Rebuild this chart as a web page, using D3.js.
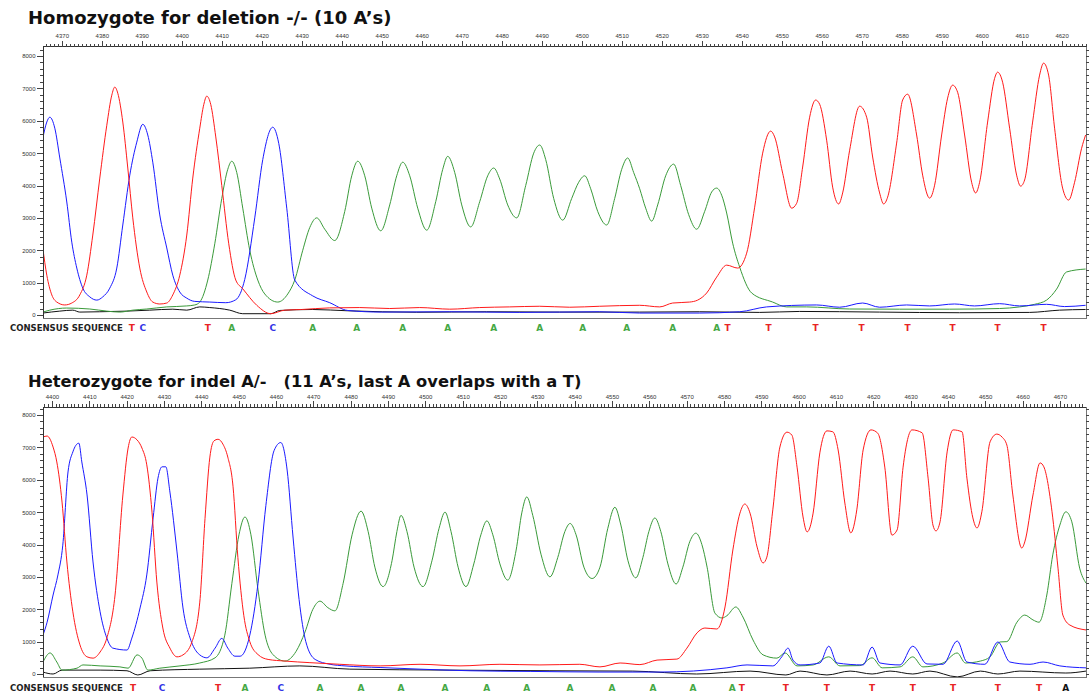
<!DOCTYPE html>
<html>
<head>
<meta charset="utf-8">
<title>Chromatogram: homozygote vs heterozygote</title>
<style>
  body { margin: 0; background: #fff; }
  svg { display: block; font-family: "Liberation Sans", Arial, sans-serif; }
  .title { font-family: "DejaVu Sans", Verdana, sans-serif; font-weight: bold; fill: #111; white-space: pre; }
  .cons { font-family: "DejaVu Sans", Verdana, sans-serif; font-weight: bold; font-size: 8.5px; fill: #222; }
  .base { font-family: "DejaVu Sans", Verdana, sans-serif; font-weight: bold; font-size: 9px; }
  .axis text { font-size: 6px; fill: #333; font-family: "Liberation Sans", Arial, sans-serif; }
  .axis line { stroke: #444; shape-rendering: crispEdges; }
  .axis path { display: none; }
  .trace { fill: none; stroke-width: 1; }
</style>
</head>
<body>
<svg width="1089" height="695"></svg>
<script src="https://cdnjs.cloudflare.com/ajax/libs/d3/7.8.5/d3.min.js"></script>
<script>
// ---- data: scan position, signal intensity ----
// panel 1: homozygote for deletion
var topT = [[4365.25,2070],[4366.25,1230],[4367.5,620],[4368.75,400],[4370.75,310],[4372.5,370],[4374.5,620],[4376.25,1230],[4377.75,2470],[4379.5,4230],[4381.25,5860],[4382.5,6790],[4383.25,7040],[4384,6850],[4385.25,5960],[4386.5,4540],[4387.75,3000],[4389.5,1450],[4391.25,710],[4392.75,400],[4394.5,340],[4396.25,370],[4397.75,620],[4399.5,1230],[4401.25,2470],[4402.75,4230],[4404.5,5770],[4405.5,6500],[4406.25,6760],[4407.25,6500],[4408.5,5500],[4410,4000],[4411.75,2200],[4413.5,1080],[4415.25,810],[4418.75,300],[4422.25,40],[4425.75,150],[4430,170],[4437,220],[4444.5,230],[4452,200],[4459.5,230],[4467,180],[4474.5,230],[4482,250],[4489.5,270],[4497,240],[4504.5,270],[4514.5,300],[4519.5,250],[4522.75,370],[4527,400],[4529,460],[4531.25,680],[4533.75,1170],[4536.25,1540],[4539,1450],[4541.25,1910],[4543.25,3330],[4545.25,5000],[4547.25,5680],[4548.25,5500],[4550.25,4380],[4552.5,3300],[4553.75,3450],[4555.25,4570],[4557,6110],[4558.5,6640],[4559.5,6510],[4561.25,5400],[4562.75,3950],[4564.25,3430],[4565.25,3770],[4567,5090],[4569.5,6450],[4571.25,6110],[4572.75,4880],[4574.5,3770],[4575.5,3430],[4576.5,3640],[4578.75,5310],[4580.25,6640],[4581.5,6820],[4583.75,5560],[4585.25,4320],[4587,3610],[4588.25,4010],[4590,5560],[4591.5,6700],[4592.75,7100],[4594,6880],[4595.75,5560],[4597.5,4100],[4598.5,3770],[4599.5,4100],[4601.5,5960],[4603.25,7310],[4604,7500],[4605.25,7190],[4607,5770],[4608.75,4320],[4609.75,3980],[4610.75,4170],[4612.75,5960],[4614.5,7410],[4615.5,7780],[4616.75,7410],[4618.25,5770],[4620.25,3920],[4621.75,3550],[4623.25,4100],[4625,5150],[4626,5560]];
var topC = [[4365.25,5460],[4366.25,5960],[4367,6110],[4368.25,5770],[4369.5,4850],[4371.25,3490],[4372.5,2250],[4373.75,1450],[4375.25,830],[4377,560],[4378.75,460],[4380.25,560],[4382,830],[4383.75,1450],[4385.25,2780],[4387,4320],[4388.75,5340],[4390.25,5890],[4391.5,5560],[4392.75,4720],[4394.5,3090],[4396.25,2070],[4397.75,1230],[4399.5,710],[4401.25,520],[4403.25,420],[4407,400],[4411,380],[4413.5,470],[4415.75,1100],[4418.25,3000],[4420.25,4800],[4422.75,5800],[4424.25,5300],[4426.25,3300],[4428.25,1080],[4432.75,590],[4437,380],[4441.5,140],[4450,90],[4467,100],[4484.5,80],[4504.5,100],[4514.5,60],[4529.5,60],[4539.5,100],[4546.25,250],[4558.75,310],[4564.5,240],[4570.25,370],[4574.5,240],[4581.25,310],[4587,280],[4593.25,340],[4598.25,280],[4604.5,350],[4609.5,280],[4616.25,330],[4620.75,260],[4626,300]];
var topA = [[4365.25,90],[4367,150],[4371.25,215],[4377,185],[4381.25,120],[4384.5,90],[4387.75,150],[4391.25,185],[4396.25,250],[4401.25,280],[4403.25,310],[4404.5,400],[4406.5,1080],[4408.25,2200],[4410,3600],[4411.5,4500],[4412.5,4750],[4413.75,4400],[4415.25,3300],[4417,2000],[4419,1080],[4420.75,650],[4424,400],[4426.5,650],[4428.25,1080],[4430.25,2000],[4432,2700],[4433.75,3000],[4435.75,2650],[4438.25,2300],[4440.75,3200],[4442.5,4300],[4444,4750],[4445.75,4300],[4447.5,3300],[4449.75,2600],[4452,3400],[4453.75,4300],[4455.25,4720],[4457,4300],[4459,3300],[4461.25,2620],[4463.5,3500],[4465.25,4500],[4466.5,4900],[4468.25,4400],[4470,3400],[4472.25,2720],[4474.5,3500],[4476.5,4300],[4478,4540],[4479.5,4200],[4481.5,3400],[4483.75,3000],[4486,4000],[4488,5000],[4489.5,5250],[4491,4800],[4493,3600],[4495.25,2930],[4497.5,3600],[4499.25,4100],[4500.75,4300],[4502.25,3900],[4504,3200],[4506.25,2780],[4508.25,3600],[4510,4500],[4511.5,4850],[4513,4400],[4514.5,3900],[4516,3300],[4517.5,2900],[4519,3400],[4521,4300],[4523,4660],[4524.75,4000],[4526.75,3100],[4528.75,2650],[4530.75,3200],[4532.5,3800],[4533.75,3920],[4535,3700],[4536.25,3150],[4537.75,2220],[4539.5,1480],[4542.5,680],[4547.75,400],[4551.25,250],[4556.25,250],[4567,185],[4579.5,180],[4592,180],[4604.5,200],[4609.5,250],[4613.25,330],[4616.25,460],[4618.75,800],[4621.25,1330],[4626,1420]];
var topG = [[4365.25,60],[4369.5,120],[4372.75,150],[4374.5,90],[4379.5,100],[4386.25,120],[4392,150],[4397.75,180],[4401.25,150],[4404.5,250],[4407,230],[4412,150],[4415.25,40],[4422.25,40],[4424.5,140],[4432.75,170],[4441.5,130],[4458.75,85],[4476.25,100],[4494.5,90],[4514.5,90],[4529.5,100],[4544.5,80],[4554.5,110],[4574.5,90],[4594.5,70],[4612,80],[4619.5,150],[4626,170]];

// panel 2: heterozygote for indel
var botT = [[4397.6,7320],[4398.7,7350],[4400.3,7010],[4401.3,6550],[4402.7,5310],[4404.0,3460],[4405.6,1920],[4407.5,900],[4409.4,530],[4411.0,490],[4412.9,680],[4414.7,1110],[4416.9,2440],[4419.0,5530],[4420.4,6980],[4421.4,7320],[4422.8,7230],[4424.1,6980],[4425.4,6460],[4426.8,5000],[4428.1,2840],[4429.7,1420],[4431.6,800],[4433.5,530],[4435.1,590],[4437.5,990],[4439.6,2220],[4441.0,4800],[4442.3,6700],[4443.4,7200],[4444.5,7250],[4445.8,7100],[4447.1,6700],[4448.5,5800],[4449.8,3600],[4451.4,1800],[4453.0,1000],[4455.2,600],[4457.9,450],[4462.4,400],[4469.1,350],[4477.1,300],[4487.9,250],[4498.6,300],[4509.3,250],[4520.0,300],[4530.7,280],[4541.4,300],[4546.8,220],[4552.2,340],[4557.5,290],[4562.1,430],[4567.4,460],[4570.1,800],[4572.8,1270],[4574.9,1420],[4578.1,1390],[4580.3,2070],[4582.4,3830],[4584.3,4970],[4585.6,5250],[4587.0,4970],[4588.9,3920],[4590.5,3430],[4591.5,3610],[4593.1,5070],[4595.0,7010],[4596.9,7470],[4598.2,7380],[4599.6,6390],[4601.2,4850],[4602.3,4390],[4603.9,4970],[4605.7,6830],[4607.6,7510],[4609.2,7480],[4610.6,6920],[4612.4,5280],[4614.0,4360],[4615.6,5070],[4617.3,6920],[4619.4,7540],[4621.2,7440],[4623.1,6390],[4625.0,4290],[4626.4,4450],[4628.0,6390],[4630.4,7540],[4633.1,7450],[4634.7,6050],[4636.0,4600],[4636.8,4420],[4637.9,4700],[4639.8,6860],[4641.4,7540],[4643.8,7480],[4645.1,6050],[4646.7,4820],[4647.8,4510],[4649.1,5010],[4651.3,7170],[4653.1,7410],[4654.5,7320],[4655.8,7070],[4657.4,5530],[4659.8,3890],[4660.6,4080],[4662.8,5530],[4664.7,6520],[4665.7,6400],[4667.9,5010],[4669.5,3270],[4670.8,1820],[4672.7,1510],[4677.0,1360]];
var botC = [[4397.6,1200],[4398.7,1600],[4400.3,2440],[4401.6,3060],[4402.9,3980],[4404.3,6240],[4405.6,6860],[4407.2,7130],[4408.0,6550],[4409.4,5530],[4411.0,3460],[4412.9,1920],[4414.7,1110],[4416.3,800],[4420.1,740],[4421.4,1110],[4423.6,2040],[4425.4,3060],[4427.1,4820],[4428.4,6050],[4429.5,6400],[4430.5,6400],[4431.6,5620],[4433.5,3770],[4435.1,2040],[4437.0,1110],[4438.8,680],[4439.6,590],[4441.5,500],[4443.7,800],[4445.5,1100],[4447.1,800],[4449.0,550],[4450.4,550],[4453.0,1200],[4455.2,2800],[4457.3,5200],[4459.5,6900],[4461.3,7150],[4463.0,6300],[4464.6,4200],[4466.2,2300],[4468.0,1000],[4470.5,450],[4474.5,300],[4478.5,250],[4487.9,200],[4498.6,150],[4512.0,100],[4528.1,80],[4546.8,60],[4562.9,60],[4580.8,190],[4586.2,280],[4593.1,250],[4595.5,530],[4597.2,800],[4598.5,430],[4600.4,280],[4605.7,340],[4608.1,860],[4610.3,340],[4617.3,280],[4619.7,830],[4621.8,340],[4627.2,280],[4630.6,860],[4634.4,310],[4638.7,300],[4642.5,1020],[4645.1,370],[4649.9,300],[4653.4,990],[4656.6,370],[4662.0,300],[4665.5,370],[4670.0,250],[4677.0,190]];
var botA = [[4397.6,370],[4399.5,650],[4401.3,370],[4402.7,120],[4406.7,180],[4408.3,280],[4412.9,250],[4418.2,220],[4420.4,180],[4422.8,590],[4424.1,490],[4425.7,120],[4428.9,180],[4434.3,250],[4439.6,340],[4443.7,500],[4446.3,1200],[4448.2,2800],[4450.1,4300],[4451.7,4850],[4453.3,4300],[4455.2,2600],[4457.1,1200],[4459.2,600],[4462.4,400],[4465.4,700],[4467.8,1300],[4469.9,2000],[4471.8,2250],[4473.9,2050],[4475.8,1950],[4478.0,2800],[4480.4,4300],[4482.8,5030],[4484.7,4400],[4486.5,3300],[4488.7,2700],[4491.1,3500],[4492.4,4400],[4493.5,4900],[4495.1,4400],[4497.0,3300],[4499.4,2700],[4501.8,3500],[4503.7,4500],[4505.3,5000],[4506.9,4400],[4508.8,3300],[4510.9,2700],[4513.0,3400],[4514.9,4300],[4516.5,4730],[4518.1,4300],[4520.0,3400],[4522.1,2900],[4524.3,3800],[4525.9,5000],[4527.2,5470],[4528.8,4900],[4531.0,3700],[4533.4,3000],[4535.5,3600],[4537.4,4400],[4538.8,4650],[4540.4,4300],[4542.5,3300],[4544.7,2950],[4546.8,3300],[4548.9,4500],[4550.8,5150],[4552.4,4600],[4554.3,3500],[4556.4,2970],[4558.3,3600],[4559.9,4400],[4561.5,4820],[4563.1,4400],[4565.0,3400],[4567.2,2780],[4569.0,3300],[4570.9,4100],[4572.5,4350],[4574.1,4000],[4575.5,3300],[4577.6,1880],[4579.5,1730],[4580.8,1800],[4583.2,2070],[4585.1,1760],[4587.8,1050],[4590.5,590],[4594.2,490],[4596.4,650],[4599.6,250],[4603.9,280],[4608.1,530],[4611.1,250],[4616.4,260],[4619.7,500],[4622.4,190],[4627.2,220],[4630.6,530],[4633.3,220],[4638.7,340],[4642.5,650],[4644.7,340],[4648.7,400],[4651.3,530],[4654.0,990],[4655.8,1000],[4658.5,1600],[4660.6,1820],[4662.8,1670],[4664.4,1600],[4666.5,2440],[4668.1,3680],[4670.0,4600],[4671.6,5010],[4673.2,4700],[4675.3,3270],[4677.0,2810]];
var botG = [[4397.6,60],[4400.3,0],[4402.7,120],[4412.9,120],[4420.1,100],[4423.0,-30],[4426.3,100],[4439.6,150],[4453.0,180],[4466.4,250],[4479.8,150],[4506.6,120],[4533.4,100],[4555.6,90],[4572.7,0],[4587.0,90],[4596.6,-30],[4600.4,90],[4607.6,-30],[4613.8,90],[4619.7,0],[4624.5,90],[4630.6,0],[4635.2,90],[4642.5,-90],[4648.7,90],[4653.4,0],[4659.3,90],[4671.6,30],[4677.0,90]];

// consensus calls and where they sit on the scan axis
var topSeq = "TCTACAAAAAAAAAATTTTTTTT";
var topSeqPos = [4387.5,4390.25,4406.5,4412.5,4422.75,4432.75,4443.75,4455.25,4466.5,4478,4489.5,4500.25,4511.25,4522.75,4533.75,4536.5,4546.75,4558.5,4570,4581.5,4592.75,4604,4615.5];
var botSeq = "TCTACAAAAAAAAAAATTTTTTTTA";
var botSeqPos = [4421.7,4429.5,4444.5,4451.7,4461.3,4471.8,4482.8,4493.5,4505.3,4516.5,4527.2,4538.8,4550.0,4561.0,4571.7,4582.2,4584.8,4596.6,4607.6,4619.7,4630.6,4641.4,4653.4,4664.4,4671.6];

var topTicks = [4370,4380,4390,4400,4410,4420,4430,4440,4450,4460,4470,4480,4490,4500,4510,4520,4530,4540,4550,4560,4570,4580,4590,4600,4610,4620];
var botTicks = [4400,4410,4420,4430,4440,4450,4460,4470,4480,4490,4500,4510,4520,4530,4540,4550,4560,4570,4580,4590,4600,4610,4620,4630,4640,4650,4660,4670];
var yTicks = [0,1000,2000,3000,4000,5000,6000,7000,8000];

var titles = ["Homozygote for deletion -/- (10 A\u2019s)", "Heterozygote for indel A/-   (11 A\u2019s, last A overlaps with a T)"];

// ---- drawing ----
var svg = d3.select("svg");
var L = 43, R = 1086;
var baseColor = { T: "#e82424", C: "#3434e6", A: "#45a845", G: "#111" };
var traceColor = { T: "#ff1a1a", C: "#1a1aff", A: "#3a9a3a", G: "#111" };

var panels = [
  { title: titles[0], titleY: 24, titleSize: 18, xDomain: [4365.3, 4626.1], top: 46.5, bottom: 318, y0: 315, y8000: 56,
    ticks: topTicks, seq: topSeq, seqPos: topSeqPos, seqY: 330.5,
    traces: [["G", topG], ["A", topA], ["C", topC], ["T", topT]] },
  { title: titles[1], titleY: 387, titleSize: 16.3, xDomain: [4397.6, 4677.0], top: 407, bottom: 677, y0: 674, y8000: 415,
    ticks: botTicks, seq: botSeq, seqPos: botSeqPos, seqY: 690.5,
    traces: [["G", botG], ["A", botA], ["C", botC], ["T", botT]] }
];

panels.forEach(function(p, pi) {
  var x = d3.scaleLinear().domain(p.xDomain).range([L, R]);
  var y = d3.scaleLinear().domain([0, 8000]).range([p.y0, p.y8000]);

  svg.append("text").attr("class", "title").attr("x", 28).attr("y", p.titleY)
    .attr("xml:space", "preserve").style("font-size", p.titleSize + "px").text(p.title);

  svg.append("clipPath").attr("id", "clip" + pi)
    .append("rect").attr("x", L).attr("y", p.top).attr("width", R - L).attr("height", p.bottom - p.top);

  var line = d3.line()
    .x(function(d) { return x(d[0]); })
    .y(function(d) { return y(d[1]); })
    .curve(d3.curveMonotoneX);

  var g = svg.append("g").attr("clip-path", "url(#clip" + pi + ")");
  p.traces.forEach(function(t) {
    g.append("path").datum(t[1]).attr("class", "trace")
      .attr("stroke", traceColor[t[0]]).attr("d", line);
  });

  // frame
  svg.append("rect").attr("x", L + 0.5).attr("y", p.top).attr("width", R - L - 0.5).attr("height", p.bottom - p.top)
    .attr("fill", "none").attr("stroke", "#777").attr("shape-rendering", "crispEdges");
  svg.append("line").attr("x1", L + 0.5).attr("x2", L + 0.5).attr("y1", p.top).attr("y2", p.bottom)
    .attr("stroke", "#333").attr("shape-rendering", "crispEdges");
  svg.append("line").attr("x1", L).attr("x2", R).attr("y1", p.top).attr("y2", p.top)
    .attr("stroke", "#333").attr("shape-rendering", "crispEdges");

  // top scan axis: minor ticks every unit, labelled every 10
  var minor = d3.range(Math.ceil(p.xDomain[0]), p.xDomain[1], 1);
  svg.append("g").attr("class", "axis").attr("transform", "translate(0," + p.top + ")")
    .call(d3.axisTop(x).tickValues(minor).tickSize(3).tickFormat(""));
  svg.append("g").attr("class", "axis").attr("transform", "translate(0," + p.top + ")")
    .call(d3.axisTop(x).tickValues(p.ticks).tickSize(6).tickPadding(2.5).tickFormat(d3.format("d")));

  // intensity axes
  var yMinor = d3.range(0, 8201, 200);
  svg.append("g").attr("class", "axis").attr("transform", "translate(" + L + ",0)")
    .call(d3.axisLeft(y).tickValues(yMinor).tickSize(3).tickFormat(""));
  svg.append("g").attr("class", "axis").attr("transform", "translate(" + L + ",0)")
    .call(d3.axisLeft(y).tickValues(yTicks).tickSize(6).tickPadding(1.5).tickFormat(d3.format("d")));
  svg.append("g").attr("class", "axis").attr("transform", "translate(" + R + ",0)")
    .call(d3.axisRight(y).tickValues(yMinor).tickSize(3).tickFormat(""));

  // consensus row
  svg.append("text").attr("class", "cons").attr("x", 10).attr("y", p.seqY).text("CONSENSUS SEQUENCE");
  svg.append("g").selectAll("text").data(p.seq.split("")).join("text")
    .attr("class", "base")
    .attr("x", function(d, i) { return x(p.seqPos[i]); })
    .attr("y", p.seqY)
    .attr("text-anchor", "middle")
    // the overlapping last call of the heterozygote is shown in black
    .attr("fill", function(d, i) { return (pi === 1 && i === p.seq.length - 1) ? "#111" : baseColor[d]; })
    .text(function(d) { return d; });
});
</script>
</body>
</html>
